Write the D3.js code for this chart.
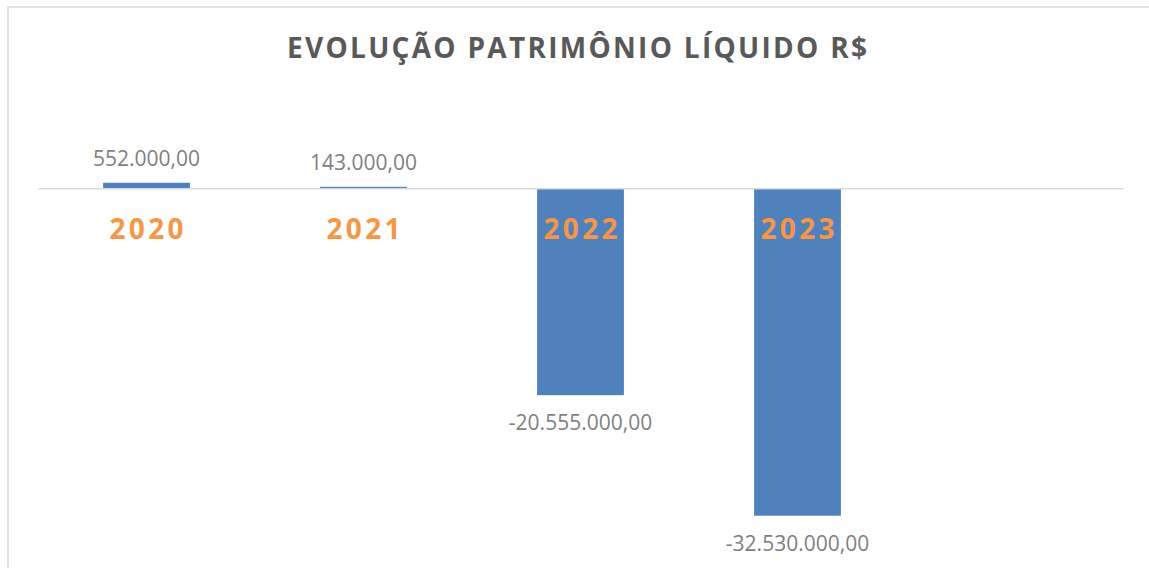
<!DOCTYPE html>
<html>
<head>
<meta charset="utf-8">
<script src="https://cdn.jsdelivr.net/npm/d3@7"></script>
<style>
  body { margin: 0; background: white; }
  svg { display: block; }
</style>
</head>
<body>
<svg></svg>
<script>
var w = 1149
var h = 568

var title = "EVOLUÇÃO PATRIMÔNIO LÍQUIDO R$"
var categories = ["2020", "2021", "2022", "2023"]
var values = [552000, 143000, -20555000, -32530000]
// the plot keeps one empty slot on the right
var slots = categories.concat([""])

var barColor = "#4f81bd"
var yearColor = "#f79646"
var labelColor = "#7f7f7f"
var lineColor = "#d9d9d9"

var svg = d3.select("svg")
  .attr("width", w)
  .attr("height", h)

var locale = d3.formatLocale({decimal: ",", thousands: ".", grouping: [3], currency: ["R$", ""], minus: "-"})
var fmt = locale.format(",.2f")

// chart frame (runs off the right and bottom of the picture)
svg.append("rect")
  .attr("x", 8)
  .attr("y", 7)
  .attr("width", 1300)
  .attr("height", 700)
  .attr("fill", "none")
  .attr("stroke", lineColor)
  .attr("stroke-width", 1.5)

var x = d3.scaleBand()
  .domain(slots)
  .range([38, 1123])
  .paddingInner(0.6)
  .paddingOuter(0.3)

var y = d3.scaleLinear()
  .domain([d3.min(values), 0])
  .range([515.7, 188.3])

// spread text over a width with letter spacing
function spread(sel, cx, width) {
  var n = sel.text().length
  var natural = sel.node().getComputedTextLength()
  var ls = (width - natural) / (n - 1)
  sel.style("letter-spacing", ls + "px")
    .attr("text-anchor", "start")
    .attr("x", cx - width / 2)
}

var t = svg.append("text")
  .attr("y", 57.7)
  .attr("font-family", "Open Sans")
  .attr("font-weight", "bold")
  .attr("font-size", 28)
  .attr("fill", "#595959")
  .text(title)
spread(t, 577, 580)

var data = categories.map(function(c, i) { return {cat: c, val: values[i]} })

svg.selectAll(".bar")
  .data(data)
  .enter().append("rect")
  .attr("class", "bar")
  .attr("x", function(d) { return x(d.cat) })
  .attr("width", x.bandwidth())
  .attr("y", function(d) { return Math.min(y(d.val), y(0)) })
  .attr("height", function(d) { return Math.abs(y(d.val) - y(0)) })
  .attr("fill", barColor)

// axis line
var xAxis = svg.append("g")
  .attr("transform", "translate(0," + y(0) + ")")
  .call(d3.axisBottom(x).tickSize(0).tickFormat(""))
xAxis.select(".domain")
  .attr("stroke", lineColor)
  .attr("stroke-width", 1.5)

// year labels
svg.selectAll(".year")
  .data(categories)
  .enter().append("text")
  .attr("class", "year")
  .attr("y", 239.3)
  .attr("font-family", "Open Sans")
  .attr("font-weight", "bold")
  .attr("font-size", 28)
  .attr("fill", yearColor)
  .text(function(d) { return d })
  .each(function(d) {
    spread(d3.select(this), x(d) + x.bandwidth() / 2, 74)
  })

// value labels
svg.selectAll(".val")
  .data(data)
  .enter().append("text")
  .attr("class", "val")
  .attr("x", function(d) { return x(d.cat) + x.bandwidth() / 2 })
  .attr("y", function(d) {
    return d.val >= 0 ? y(d.val) - 16.5 : y(d.val) + 34.8
  })
  .attr("text-anchor", "middle")
  .attr("font-family", "Open Sans")
  .attr("font-size", 21)
  .attr("fill", labelColor)
  .text(function(d) { return fmt(d.val) })
</script>
</body>
</html>
